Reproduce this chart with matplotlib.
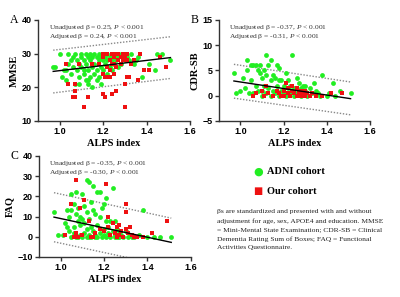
import numpy as np
import matplotlib
matplotlib.use('Agg')
import matplotlib.pyplot as plt

# ---- data ----
# panel A: MMSE vs ALPS index
adni_mmse_x = [0.97, 0.98, 1.00, 1.01, 1.02, 1.03, 1.03, 1.04, 1.04, 1.05, 1.05, 1.06, 1.06, 1.07, 1.07,
               1.08, 1.08, 1.09, 1.09, 1.10, 1.10, 1.10, 1.11, 1.11, 1.12, 1.12, 1.12, 1.13, 1.13, 1.13,
               1.14, 1.14, 1.14, 1.15, 1.15, 1.15, 1.16, 1.16, 1.16, 1.17, 1.17, 1.17, 1.18, 1.18, 1.18,
               1.19, 1.19, 1.19, 1.20, 1.20, 1.20, 1.21, 1.21, 1.22, 1.22, 1.22, 1.23, 1.23, 1.24, 1.24,
               1.24, 1.25, 1.25, 1.26, 1.26, 1.27, 1.27, 1.28, 1.28, 1.29, 1.30, 1.30, 1.31, 1.32, 1.33,
               1.34, 1.35, 1.36, 1.38, 1.41, 1.44, 1.45, 1.47, 1.51, 1.13, 1.09, 1.11]
adni_mmse_y = [26, 26, 30, 23, 25, 25, 22, 27, 30, 28, 24, 29, 26, 30, 21,
               28, 25, 27, 23, 30, 29, 26, 28, 24, 30, 27, 22, 29, 25, 21,
               30, 28, 23, 29, 26, 20, 30, 27, 24, 29, 25, 22, 30, 28, 23,
               29, 26, 21, 30, 28, 25, 29, 27, 30, 28, 24, 29, 26, 30, 28,
               25, 29, 27, 30, 28, 29, 26, 30, 27, 29, 28, 30, 29, 28, 30,
               27, 28, 29, 23, 27, 25, 30, 30, 28, 22, 21, 25]
our_mmse_x = [1.03, 1.04, 1.06, 1.07, 1.07, 1.07, 1.09, 1.11, 1.13, 1.15, 1.18, 1.20, 1.20, 1.20, 1.20,
              1.21, 1.21, 1.22, 1.22, 1.22, 1.23, 1.23, 1.24, 1.24, 1.25, 1.25, 1.26, 1.26, 1.26, 1.27,
              1.27, 1.28, 1.28, 1.29, 1.29, 1.30, 1.30, 1.30, 1.31, 1.31, 1.32, 1.33, 1.34, 1.36, 1.37,
              1.39, 1.41, 1.46, 1.49, 1.23, 1.25, 1.31, 1.24]
our_mmse_y = [27, 21, 17, 17, 19, 21, 27, 14, 17, 27, 27, 30, 29, 24, 18,
              17, 23, 30, 26, 23, 28, 25, 18, 30, 29, 27, 30, 26, 19, 28,
              30, 29, 27, 30, 28, 21, 14, 29, 30, 23, 23, 27, 28, 22, 30,
              25, 25, 29, 26, 23, 24, 28, 27]

# panel B: CDR-SB vs ALPS index
adni_cdr_x = [0.97, 0.98, 1.00, 1.01, 1.02, 1.03, 1.03, 1.04, 1.05, 1.05, 1.06, 1.06, 1.07, 1.07, 1.08,
              1.08, 1.09, 1.09, 1.10, 1.10, 1.10, 1.11, 1.11, 1.12, 1.12, 1.12, 1.13, 1.13, 1.14, 1.14,
              1.14, 1.15, 1.15, 1.16, 1.16, 1.17, 1.17, 1.18, 1.18, 1.19, 1.19, 1.20, 1.20, 1.21, 1.21,
              1.22, 1.22, 1.23, 1.23, 1.24, 1.24, 1.25, 1.25, 1.26, 1.26, 1.27, 1.27, 1.28, 1.28, 1.29,
              1.30, 1.30, 1.31, 1.32, 1.33, 1.34, 1.35, 1.36, 1.38, 1.40, 1.41, 1.43, 1.44, 1.46, 1.51,
              1.37, 1.29, 1.18]
adni_cdr_y = [4.5, 0.5, 1.0, 3.5, 1.5, 7.0, 5.0, 0.5, 6.0, 3.0, 6.0, 0.5, 6.0, 2.0, 1.0,
              5.0, 6.0, 4.5, 3.5, 1.0, 0.0, 5.0, 2.0, 8.0, 4.0, 0.5, 6.0, 1.5, 7.0, 3.0,
              0.0, 4.0, 1.0, 3.5, 0.5, 6.0, 2.0, 5.5, 0.0, 3.0, 1.0, 2.0, 0.5, 4.5, 0.0,
              1.5, 3.0, 0.5, 2.0, 8.0, 1.0, 0.0, 1.5, 3.5, 0.5, 1.0, 2.5, 0.0, 1.5, 0.5,
              2.0, 1.0, 0.0, 1.5, 0.5, 2.5, 1.0, 0.5, 4.0, 0.0, 0.5, 2.5, 0.0, 1.0, 0.5,
              0.0, 2.0, 3.0]
our_cdr_x = [1.06, 1.07, 1.10, 1.11, 1.12, 1.15, 1.17, 1.18, 1.20, 1.20, 1.21, 1.22, 1.22, 1.23, 1.24,
             1.24, 1.25, 1.26, 1.26, 1.27, 1.28, 1.28, 1.29, 1.30, 1.30, 1.31, 1.32, 1.33, 1.35, 1.38,
             1.42, 1.47, 1.13, 1.19]
our_cdr_y = [0.0, 0.5, 1.0, 0.0, 2.0, 0.0, 1.0, 0.5, 0.0, 1.0, 2.5, 0.5, 1.5, 0.0, 1.0,
             2.0, 0.5, 0.0, 1.5, 0.5, 1.0, 0.0, 0.5, 0.0, 1.0, 0.5, 0.0, 0.5, 0.0, 0.0,
             0.5, 0.5, 0.5, 0.0]

# panel C: FAQ vs ALPS index
adni_faq_x = [0.97, 0.99, 1.01, 1.02, 1.03, 1.03, 1.04, 1.04, 1.05, 1.05, 1.05, 1.06, 1.06, 1.06, 1.07,
              1.07, 1.07, 1.08, 1.08, 1.08, 1.09, 1.09, 1.10, 1.10, 1.10, 1.11, 1.11, 1.11, 1.12, 1.12,
              1.12, 1.12, 1.13, 1.13, 1.13, 1.14, 1.14, 1.14, 1.15, 1.15, 1.15, 1.16, 1.16, 1.16, 1.17,
              1.17, 1.17, 1.18, 1.18, 1.18, 1.19, 1.19, 1.20, 1.20, 1.20, 1.21, 1.21, 1.21, 1.22, 1.22,
              1.23, 1.23, 1.24, 1.24, 1.25, 1.25, 1.26, 1.26, 1.27, 1.27, 1.28, 1.29, 1.30, 1.31, 1.32,
              1.33, 1.34, 1.36, 1.38, 1.40, 1.43, 1.46, 1.51, 1.09, 1.13, 1.25]
adni_faq_y = [12, 1, 1, 7, 13, 5, 10, 3, 21, 13, 0, 16, 5, 2, 22,
              11, 0, 14, 8, 0, 10, 1, 21, 9, 0, 15, 7, 2, 28, 12,
              4, 0, 27, 9, 1, 17, 5, 0, 25, 13, 3, 11, 1, 0, 22,
              6, 0, 22, 10, 2, 14, 0, 16, 4, 1, 19, 8, 0, 5, 2,
              8, 0, 24, 3, 1, 8, 0, 4, 2, 0, 1, 0, 3, 0, 1,
              0, 0, 1, 13, 0, 0, 0, 0, 6, 0, 0]
our_faq_x = [1.02, 1.05, 1.06, 1.07, 1.07, 1.08, 1.09, 1.10, 1.11, 1.13, 1.14, 1.16, 1.18, 1.20, 1.21,
             1.22, 1.22, 1.23, 1.24, 1.25, 1.26, 1.26, 1.27, 1.28, 1.29, 1.30, 1.30, 1.30, 1.31, 1.32,
             1.33, 1.34, 1.35, 1.38, 1.42, 1.49, 1.27, 1.15]
our_faq_y = [1, 16, 0, 28, 2, 0, 14, 1, 18, 8, 0, 2, 4, 3, 26,
             10, 5, 1, 7, 2, 5, 0, 6, 3, 0, 16, 12, 4, 2, 5,
             1, 0, 0, 0, 2, 8, 1, 0]

# regression fit and 95% prediction band, evaluated at the ends of the x range
fit_x = [0.97, 1.51]
fit_mmse = [24.7, 28.8]
hi_mmse = [31.0, 35.0]
lo_mmse = [18.3, 22.6]
fit_cdr = [2.9, -0.6]
hi_cdr = [6.2, 2.7]
lo_cdr = [-0.5, -3.8]
fit_faq = [9.7, -2.8]
hi_faq = [21.8, 9.2]
lo_faq = [-2.5, -15.0]

stats_mmse = ['0.25', '0.24']
stats_cdr = ['-0.37', '-0.31']
stats_faq = ['-0.35', '-0.30']

green = '#22ee22'
red = '#ee1111'
serif = 'Liberation Serif'

plt.rcParams['mathtext.fontset'] = 'custom'
plt.rcParams['mathtext.it'] = 'Liberation Serif:italic'
plt.rcParams['mathtext.rm'] = 'Liberation Serif'

fig = plt.figure(figsize=(4, 2.97), dpi=100)


def panel(rect, letter, ylabel, ylim, yticks, ax_, ay_, ox, oy, fit, hi, lo, stats):
    ax = fig.add_axes(rect)
    ax.plot(fit_x, hi, ls=(0, (1, 1.2)), color='#888888', lw=1.0)
    ax.plot(fit_x, lo, ls=(0, (1, 1.2)), color='#888888', lw=1.0)
    ax.scatter(ax_, ay_, s=12, marker='o', color=green, linewidths=0, zorder=3)
    ax.scatter(ox, oy, s=11, marker='s', color=red, linewidths=0, zorder=3)
    ax.plot(fit_x, fit, color='black', lw=1.0, zorder=4)
    ax.set_xlim(0.9, 1.6)
    ax.set_ylim(*ylim)
    ax.set_xticks([1.0, 1.2, 1.4, 1.6])
    ax.set_yticks(yticks)
    for s in ['top', 'right']:
        ax.spines[s].set_visible(False)
    for s in ['left', 'bottom']:
        ax.spines[s].set_linewidth(1.0)
        ax.spines[s].set_color('#333333')
    ax.tick_params(length=3, width=1.0, pad=1.5, labelsize=6.5, color='#333333')
    for lab in ax.get_xticklabels() + ax.get_yticklabels():
        lab.set_fontweight('bold')
        lab.set_family('Liberation Sans')
    ax.set_xlabel('ALPS index', family=serif, fontweight='bold', fontsize=7.5, labelpad=2)
    ax.set_ylabel(ylabel, family=serif, fontweight='bold', fontsize=7.5, labelpad=2)
    ax.text(0.07, 0.965, 'Unadjusted β = %s, $P$ < 0.001' % stats[0], transform=ax.transAxes,
            family=serif, fontsize=5.4, va='top', color='#333333')
    ax.text(0.07, 0.88, 'Adjusted β = %s, $P$ < 0.001' % stats[1], transform=ax.transAxes,
            family=serif, fontsize=5.4, va='top', color='#333333')
    ax.text(-0.185, 1.0, letter, transform=ax.transAxes, family=serif, fontsize=8.5, va='center')
    return ax


panel([0.095, 0.593, 0.38, 0.34], 'A', 'MMSE', (10, 40), [10, 20, 30, 40],
      adni_mmse_x, adni_mmse_y, our_mmse_x, our_mmse_y, fit_mmse, hi_mmse, lo_mmse, stats_mmse)
panel([0.547, 0.593, 0.378, 0.34], 'B', 'CDR-SB', (-5, 15), [-5, 0, 5, 10, 15],
      adni_cdr_x, adni_cdr_y, our_cdr_x, our_cdr_y, fit_cdr, hi_cdr, lo_cdr, stats_cdr)
panel([0.097, 0.135, 0.38, 0.34], 'C', 'FAQ', (-10, 40), [-10, 0, 10, 20, 30, 40],
      adni_faq_x, adni_faq_y, our_faq_x, our_faq_y, fit_faq, hi_faq, lo_faq, stats_faq)

# legend
fig.text(0.645, 1 - 172 / 297, '●', color=green, fontsize=8, ha='center', va='center')
fig.text(0.645, 1 - 191 / 297, '■', color=red, fontsize=7, ha='center', va='center')
fig.text(0.667, 1 - 172 / 297, 'ADNI cohort', family=serif, fontweight='bold', fontsize=7.5, va='center')
fig.text(0.667, 1 - 191 / 297, 'Our cohort', family=serif, fontweight='bold', fontsize=7.5, va='center')

note = ['βs are standardized and presented with and without',
        'adjustment for age, sex, APOE4 and education. MMSE',
        '= Mini-Mental State Examination; CDR-SB = Clinical',
        'Dementia Rating Sum of Boxes; FAQ = Functional',
        'Activities Questionnaire.']
for i, line in enumerate(note):
    fig.text(0.543, 1 - (212 + 9 * i) / 297, line, family=serif, fontsize=5.4, va='center',
             color='#222222')

fig.savefig('out.png', dpi=100)
